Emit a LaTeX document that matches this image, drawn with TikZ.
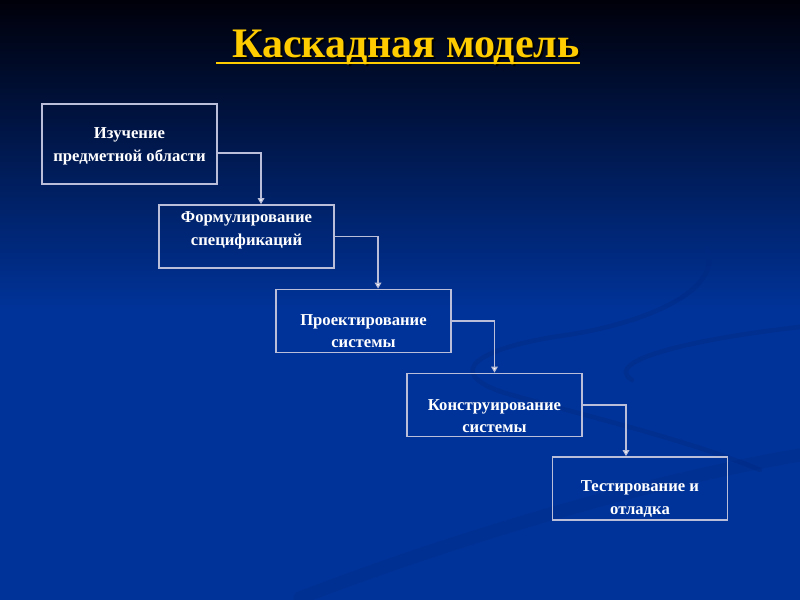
\documentclass[tikz,border=0pt]{standalone}
\usepackage{fontspec}
\setmainfont{Liberation Serif}
\usetikzlibrary{arrows.meta,calc}

\definecolor{slideblue}{RGB}{0,51,153}
\definecolor{slidetop}{RGB}{0,0,10}
\definecolor{slidemid}{RGB}{6,26,88}
\definecolor{swoosh}{RGB}{0,40,128}
\definecolor{titlegold}{RGB}{255,204,0}
\definecolor{boxline}{RGB}{186,190,216}

\tikzset{
	stage/.style={draw=boxline, line width=1.1pt, minimum width=131pt, minimum height=#1, inner sep=0pt},
	stage/.default=47.5pt,
	stagetext/.style={text=white, font=\fontsize{12.5}{17}\selectfont\bfseries, align=center, inner sep=0pt},
	link/.style={draw=boxline, line width=0.9pt, -{Triangle[width=5pt,length=4.5pt,fill=white]}},
	swooshline/.style={draw=swoosh, line cap=round, opacity=0.35}
}

\begin{document}
\begin{tikzpicture}[x=0.75pt, y=-0.75pt]
			%%%%% BACKGROUND %%%%%
			\useasboundingbox (0,0) rectangle (800,600);
			\fill[slideblue] (0,0) rectangle (800,600);
			\shade[top color=slidetop, middle color=slidemid, bottom color=slideblue] (0,0) rectangle (800,310);
			
			\draw[swooshline, line width=3.5pt] (707,248) .. controls (724,292) and (640,325) .. (560,336) .. controls (480,348) and (440,372) .. (505,393) .. controls (570,412) and (690,440) .. (760,470);
			\draw[swooshline, line width=3.5pt] (800,327) .. controls (700,338) and (600,360) .. (632,380);
			\draw[swooshline, line width=10pt, opacity=0.25] (300,598) .. controls (450,540) and (650,480) .. (800,455);
			
			%%%%% TITLE %%%%%
			\node[text=black, font=\fontsize{31.5}{36}\selectfont\bfseries, inner sep=0pt, anchor=base west] (titleshadow) at (218,59) {\hspace{12pt}Каскадная модель};
			\node[text=titlegold, font=\fontsize{31.5}{36}\selectfont\bfseries, inner sep=0pt, anchor=base west] (title) at (216,57) {\hspace{12pt}Каскадная модель};
			\draw[titlegold, line width=2.2pt] ([yshift=-4.5pt]title.base west) -- ([yshift=-4.5pt]title.base east);
			
			%%%%% STAGES %%%%%
			\node[stage=60pt] (b1) at (129.5,144) {};
			\node[stage] (b2) at (246.5,236.5) {};
			\node[stage] (b3) at (363.5,321) {};
			\node[stage] (b4) at (494.5,405) {};
			\node[stage] (b5) at (640,488.5) {};
			
			\node[stagetext] (t1) at (129.5,146.5) {Изучение\\предметной области};
			\node[stagetext] (t2) at (246.5,230.5) {Формулирование\\спецификаций};
			\node[stagetext] (t3) at (363.5,331) {Проектирование\\системы};
			\node[stagetext] (t4) at (494.5,416) {Конструирование\\системы};
			\node[stagetext] (t5) at (640,499) {Тестирование и\\отладка};
			
			%%%%% LINKS %%%%%
			\draw[link] ([yshift=-6.75pt]b1.east) -| ([xshift=10.9pt]b2.north);
			\draw[link] (b2.east) -| ([xshift=10.9pt]b3.north);
			\draw[link] (b3.east) -| (b4.north);
			\draw[link] (b4.east) -| ([xshift=-10.5pt]b5.north);
			
\end{tikzpicture}
\end{document}
